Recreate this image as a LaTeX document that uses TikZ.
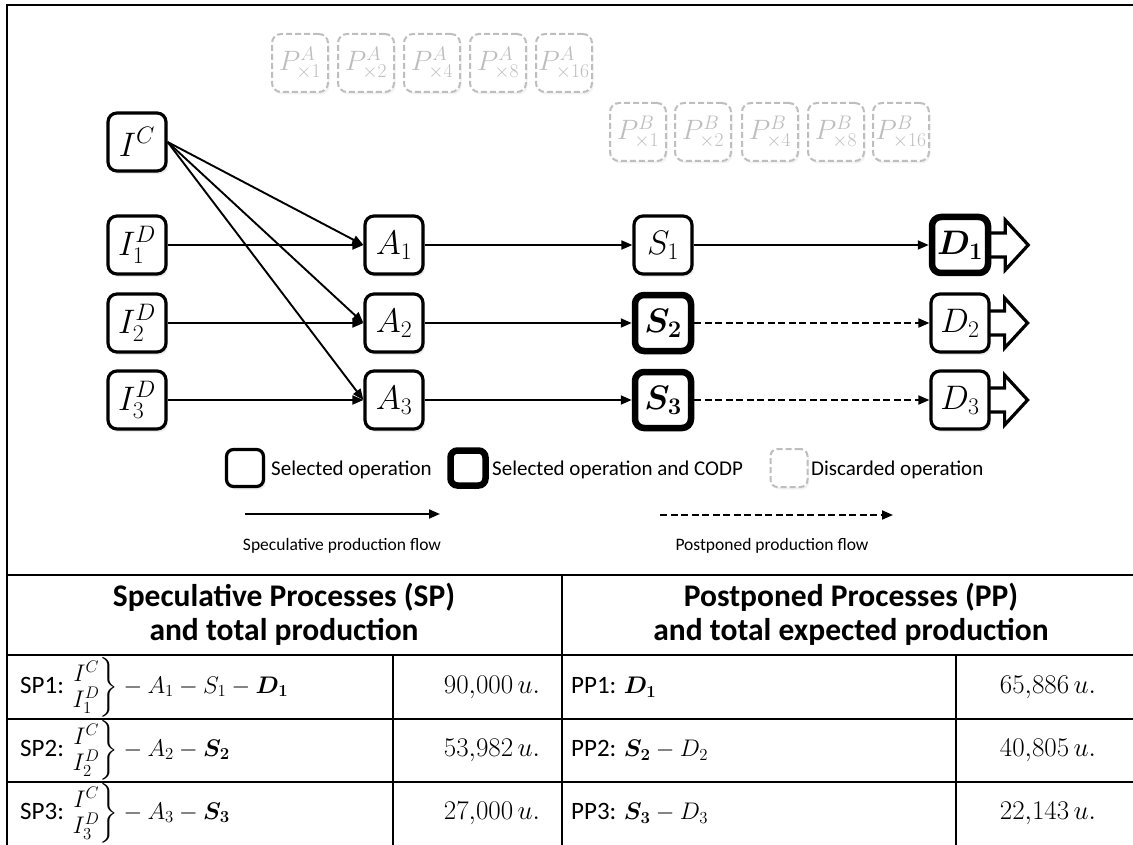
\RequirePackage{fix-cm}
\documentclass[tikz,border=0pt]{standalone}
\usepackage{amsmath}
\usepackage[no-math]{fontspec}
\setmainfont{Carlito}
\usetikzlibrary{arrows.meta,shadows,calc}
\pgfdeclarelayer{bg}
\pgfsetlayers{bg,main}
\newcommand\fsz[2]{\fontsize{#1}{#2}\selectfont}
\definecolor{discgray}{RGB}{190,190,190}
\tikzset{
  op/.style={draw, line width=3.2pt, rounded corners=9pt, fill=white,
    minimum width=58pt, minimum height=58pt, inner sep=0pt,
    font=\fsz{34}{38},
    drop shadow={opacity=0.15, shadow xshift=2pt, shadow yshift=-3pt}},
  codp/.style={op, line width=6.5pt, minimum width=56pt, minimum height=56pt},
  disc/.style={draw=discgray, line width=2pt, dash pattern=on 6pt off 3pt,
    rounded corners=9pt, fill=white, text=discgray,
    minimum width=56pt, minimum height=58pt, inner sep=0pt,
    font=\fsz{28}{32},
    drop shadow={opacity=0.10, shadow xshift=1.5pt, shadow yshift=-2.5pt}},
  flow/.style={line width=1.9pt, -{Triangle[length=11pt,width=9pt]}},
  pflow/.style={flow, dash pattern=on 7pt off 3.5pt},
  outarrow/.style={line width=3.2pt, fill=white, line join=miter},
  rule/.style={line width=2.5pt},
  legtext/.style={anchor=west, inner sep=0pt, font=\fsz{21}{25}},
  flowtext/.style={inner sep=0pt, font=\fsz{17.5}{21}},
  head/.style={align=center, inner sep=0pt, font=\bfseries\fsz{31.5}{34}},
  cell/.style={anchor=west, inner sep=0pt, font=\fsz{25}{29}},
  num/.style={inner sep=0pt, font=\fsz{27}{31}},
}
\newcommand\tm[1]{{\fsz{24}{28}\def\arraystretch{0.68}$#1$}}
\begin{document}
\begin{tikzpicture}[x=1pt,y=-1pt]
\useasboundingbox (0,0) rectangle (1133,845);
\clip (0,0) rectangle (1133,845);

% outer frame and table rules
\draw[rule] (1140,5) -- (7,5) -- (7,860);
\draw[rule] (1140,5) -- (1140,860);
\draw[rule] (7,575) -- (1140,575);
\draw[rule] (7,655) -- (1140,655);
\draw[rule] (7,719) -- (1140,719);
\draw[rule] (7,782) -- (1140,782);
\draw[rule] (562,575) -- (562,860);
\draw[rule] (393,655) -- (393,860);
\draw[rule] (956,655) -- (956,860);

% discarded alternatives
\foreach \i/\x/\m in {1/300/1,2/366/2,3/432/4,4/498/8,5/564/16}
  \node[disc] (PA\i) at (\x,63) {$P^{A}_{\times\m}$};
\foreach \i/\x/\m in {1/638/1,2/703/2,3/770/4,4/836/8,5/901/16}
  \node[disc] (PB\i) at (\x,132) {$P^{B}_{\times\m}$};

% inputs
\node[op] (IC) at (137,142) {$I^{C}$};
\node[op] (I1) at (137,245) {$I^{D}_{1}$};
\node[op] (I2) at (137,323) {$I^{D}_{2}$};
\node[op] (I3) at (137,400) {$I^{D}_{3}$};

% operations
\node[op] (A1) at (394,245) {$A_{1}$};
\node[op] (A2) at (394,323) {$A_{2}$};
\node[op] (A3) at (394,400) {$A_{3}$};
\node[op] (S1) at (663,245) {$S_{1}$};
\node[codp] (S2) at (663,323) {$\boldsymbol{S_{2}}$};
\node[codp] (S3) at (663,400) {$\boldsymbol{S_{3}}$};
\node[codp] (D1) at (960,245) {$\boldsymbol{D_{1}}$};
\node[op] (D2) at (960,323) {$D_{2}$};
\node[op] (D3) at (960,400) {$D_{3}$};

% output arrows
\begin{pgfonlayer}{bg}
\foreach \n in {D1,D2,D3}
  \draw[outarrow] ($(\n.east)+(-4,-12)$) -- ++(18,0) -- ++(0,-13)
     -- ++(23,25) -- ++(-23,25) -- ++(0,-13) -- ++(-18,0) -- cycle;
\end{pgfonlayer}

% flows
\draw[flow] (IC.east) -- (A1.west);
\draw[flow] (IC.east) -- (A2.west);
\draw[flow] (IC.east) -- (A3.west);
\draw[flow] (I1) -- (A1);
\draw[flow] (I2) -- (A2);
\draw[flow] (I3) -- (A3);
\draw[flow] (A1) -- (S1);
\draw[flow] (A2) -- (S2);
\draw[flow] (A3) -- (S3);
\draw[flow] (S1) -- (D1);
\draw[pflow] (S2) -- (D2);
\draw[pflow] (S3) -- (D3);

% legend
\node[op, minimum width=37pt, minimum height=37pt, rounded corners=7pt] (Lsel) at (245,468) {};
\node[legtext] (LselT) at (271,470) {Selected operation};
\node[codp, minimum width=35pt, minimum height=35pt, rounded corners=7pt] (Lcodp) at (468,468) {};
\node[legtext] (LcodpT) at (492,470) {Selected operation and CODP};
\node[disc, minimum width=37pt, minimum height=38pt, rounded corners=7pt] (Ldisc) at (789,468) {};
\node[legtext] (LdiscT) at (811,470) {Discarded operation};

\coordinate (spA) at (245,514);
\coordinate (spB) at (440,514);
\draw[flow] (spA) -- (spB);
\node[flowtext] (spT) at (342,546) {Speculative production flow};
\coordinate (ppA) at (660,515);
\coordinate (ppB) at (893,515);
\draw[pflow] (ppA) -- (ppB);
\node[flowtext] (ppT) at (772,546) {Postponed production flow};

% table
\node[head] (hSP) at (284,614) {Speculative Processes (SP)\\and total production};
\node[head] (hPP) at (851,614) {Postponed Processes (PP)\\and total expected production};

\node[cell] (sp1) at (20,687) {SP1: \tm{\left.\begin{array}{@{}c@{}}I^{C}\\ I^{D}_{1}\end{array}\right\}-A_{1}-S_{1}-\boldsymbol{D_{1}}}};
\node[cell] (sp2) at (20,750) {SP2: \tm{\left.\begin{array}{@{}c@{}}I^{C}\\ I^{D}_{2}\end{array}\right\}-A_{2}-\boldsymbol{S_{2}}}};
\node[cell] (sp3) at (20,813) {SP3: \tm{\left.\begin{array}{@{}c@{}}I^{C}\\ I^{D}_{3}\end{array}\right\}-A_{3}-\boldsymbol{S_{3}}}};
\node[num] (n1) at (492,687) {$90{,}000\,u.$};
\node[num] (n2) at (492,750) {$53{,}982\,u.$};
\node[num] (n3) at (492,813) {$27{,}000\,u.$};

\node[cell] (pp1) at (571,687) {PP1: \tm{\boldsymbol{D_{1}}}};
\node[cell] (pp2) at (571,750) {PP2: \tm{\boldsymbol{S_{2}}-D_{2}}};
\node[cell] (pp3) at (571,813) {PP3: \tm{\boldsymbol{S_{3}}-D_{3}}};
\node[num] (m1) at (1048,687) {$65{,}886\,u.$};
\node[num] (m2) at (1048,750) {$40{,}805\,u.$};
\node[num] (m3) at (1048,813) {$22{,}143\,u.$};
\end{tikzpicture}
\end{document}
